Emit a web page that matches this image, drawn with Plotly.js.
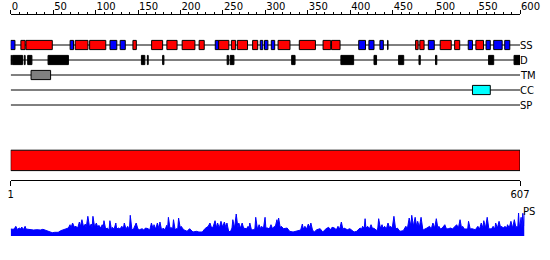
<!DOCTYPE html>
<html><head><meta charset="utf-8">
<script src="https://cdn.plot.ly/plotly-3.0.1.min.js"></script>
<style>html,body{margin:0;padding:0;background:#fff}#chart{width:550px;height:260px}</style>
</head><body><div id="chart"></div>
<script>
// ---------- data ----------
const trackNames = ['SS', 'D', 'TM', 'CC', 'SP'];

// secondary structure: H = helix (red), E = strand (blue)
const ssStart = [0, 12, 18, 70, 76, 93, 117, 129, 144, 166, 184, 202, 222, 241, 245, 260, 267, 285, 294, 299, 307, 315, 340, 368, 378, 410, 422, 435, 444, 477, 482, 492, 506, 523, 539, 548, 560, 569, 582];
const ssEnd   = [5, 17, 49, 74, 91, 112, 125, 135, 148, 179, 196, 217, 228, 245, 257, 265, 279, 291, 297, 303, 311, 329, 359, 377, 388, 418, 428, 439, 444.5, 480, 487, 499, 519, 529, 544, 557, 565, 579, 588];
const ssType  = ['E','H','H','E','H','H','E','E','H','H','H','H','H','E','H','H','H','H','E','E','E','H','H','H','H','E','E','E','E','H','H','E','H','H','E','H','E','E','E'];

// disorder
const disStart = [0, 2, 16, 20, 44, 154, 161, 179, 255, 258.5, 331, 389, 428, 457, 481, 500.5, 563, 593];
const disEnd   = [1, 14, 17, 25, 68, 158, 162, 180.5, 256.5, 263, 335, 404, 431, 463, 482.5, 502, 569, 600];

// transmembrane, coiled coil, signal peptide
const tmStart = [24], tmEnd = [47];
const ccStart = [544], ccEnd = [565];
const spStart = [], spEnd = [];

// top ruler
const topRange = [0, 600];
const topMajorStep = 50;
const topMinorStep = 10;

// sequence bar
const seqFirst = 1;
const seqLength = 607;
const seqTickVals = [1, 607];

// PS profile (residue position, score)
const psPos = [1,4,6,7,9,11,13,14,16,18,19,21,25,28,32,36,39,43,46,50,53,57,60,64,67,
69,71,72,74,76,78,80,82,83,85,87,89,90,92,94,96,97,98,100,102,104,105,107,109,110,111,113,115,117,118,120,121,123,125,126,128,130,132,134,135,137,139,141,142,144,146,147,149,151,153,156,158,160,163,165,167,169,170,172,174,176,177,179,181,183,185,186,187,189,190,192,193,195,196,198,199,201,
202,205,209,212,216,220,223,227,230,234,
236,238,240,242,244,245,247,249,251,253,255,256,258,260,262,263,265,267,269,270,272,274,276,277,279,281,282,283,285,287,289,290,292,294,296,297,299,301,302,304,306,308,310,312,313,315,316,317,319,320,323,327,330,334,
337,341,343,345,346,348,350,352,354,355,357,359,362,366,369,373,376,378,380,383,385,387,389,391,393,394,398,401,
406,409,413,415,416,418,419,420,422,424,426,428,429,433,434,435,437,439,440,442,444,446,448,449,451,453,455,457,460,464,467,469,471,473,474,476,478,480,481,483,485,487,488,492,495,497,499,501,503,505,506,508,510,513,515,517,520,522,524,527,529,531,533,534,536,538,540,541,543,545,549,552,554,556,558,559,561,563,565,566,568,570,572,573,575,577,579,580,582,584,586,587,589,591,593,595,597,598,599,600,601,603,604,605,606,607];
const psVal = [7,6.7,8,9.7,6.5,8,7,9,6.5,9.7,7,6.7,6,6,6.3,6,6.7,5.3,4,3.3,3.7,3.7,5.3,6.3,7.3,
8,11.3,8,13,9,9.7,8,14,9,16.3,9,12,8,19.7,9,12,8,19.7,9,13,8,10.7,8,11.3,7,15.3,7,8,6,15.3,6,8.7,7,13,7,8,7,9.7,8,13,7,9.7,6,20.7,6,7.3,9,13,7,6.3,7.3,6,8,7.3,6,13,7,11.3,7,13,7,14,6,8,6,10.7,7,18.7,7,8.7,7,16.3,6,7.3,7,18,8,
9.7,6.3,4.7,7.3,4,4.7,4,4,7.3,9.7,
13,8,9.7,15.3,8,13,8,14.7,9,14,8,13,5,4,8,16.3,8,22,8,13,8,13,7,8,7,9.7,7,13,6,6.3,7,18.7,7,11.3,7,9.7,7,18.7,8,8,7,11.3,7,9.7,9,16.3,12,18,8,9.7,7.3,8,4.7,4,
4.7,6.3,6,12,7,9.7,7,12,8,13,6,4,6.3,7.3,4,7.3,8.7,6,8.7,8,6,9.7,7,14,6,8,6.3,7.3,
4,4.7,8,7,9.7,8,17.3,8,9.7,7,11.3,7,8,5.3,8,17.3,8,11.3,8,9.7,7,13,8,9.7,8,19.7,7,8,4.7,5.3,9.7,8,18,10,20.7,10,18.7,9,14.7,9,18.7,7,6.3,8,9.7,7,13,8,17.3,7,9.7,7,8,11.3,7,7.3,8,7,8.7,11.3,8,16.3,7,9.7,7,7.3,7,14.7,7,7.3,6.3,9.7,7,13,8,15.3,8,18.7,7,7.3,7,9.7,7,13,8,14.7,8,9.7,8,9.7,8,11.3,8,14.7,8,16.3,8,9.7,8,23,8,18.7,8,22.7,10,24];

// ---------- layout helpers (pixel geometry) ----------
const W = 550, H = 260;
const X0 = 10.7, X1 = 520, X1ps = 524.5;
const px = p => p / W;
const py = p => 1 - p / H;
const FONT = 'DejaVu Sans, Verdana, sans-serif';

// tracks: track i at pixel 45 + 15*i ; y-axis value = track index
const trackTop = 15, trackBottom = 112, trackY0 = 45, trackStep = 15;
const yRangeTop = (trackTop - trackY0) / trackStep;
const yRangeBottom = (trackBottom - trackY0) / trackStep;
const halfBox = 4.6 / trackStep;

const colors = {H: '#ff0000', E: '#0000ff', D: '#000000', TM: '#808080', CC: '#00ffff', SP: '#ffff00'};

const shapes = [];
function addBoxes(starts, ends, track, colorFn) {
  for (let i = 0; i < starts.length; i++) {
    shapes.push({type: 'rect', xref: 'x', yref: 'y', x0: starts[i], x1: ends[i],
      y0: track - halfBox, y1: track + halfBox,
      fillcolor: colorFn(i), line: {color: '#000', width: 1}, layer: 'above'});
  }
}
addBoxes(ssStart, ssEnd, 0, i => colors[ssType[i]]);
addBoxes(disStart, disEnd, 1, () => colors.D);
addBoxes(tmStart, tmEnd, 2, () => colors.TM);
addBoxes(ccStart, ccEnd, 3, () => colors.CC);
addBoxes(spStart, spEnd, 4, () => colors.SP);

const traces = [];
trackNames.forEach((n, i) => {
  traces.push({type: 'scatter', mode: 'lines', x: topRange, y: [i, i], xaxis: 'x', yaxis: 'y',
    line: {color: '#000', width: 1}, hoverinfo: 'skip'});
});

// sequence bar (x2/y2): y2 range [0,1]; px 180.3 -> 0, px 148 -> 1
const seqAxisPx = 180.3, seqTopPx = 148;
const toY2 = p => (seqAxisPx - p) / (seqAxisPx - seqTopPx);
const barTop = toY2(150.2), barBot = toY2(170.6);
traces.push({type: 'bar', orientation: 'h', base: [seqFirst], x: [seqLength - seqFirst],
  y: [(barTop + barBot) / 2], width: [barTop - barBot], xaxis: 'x2', yaxis: 'y2',
  marker: {color: '#ff0000', line: {color: '#000', width: 1}}, hoverinfo: 'skip'});

// PS profile (x3/y3)
const psBasePx = 236, psTopPx = 208, psRange = psBasePx - psTopPx;
traces.push({type: 'scatter', mode: 'lines', x: psPos, y: psVal, xaxis: 'x3', yaxis: 'y3',
  fill: 'tozeroy', fillcolor: '#0000ff', line: {color: '#0000ff', width: 1}, hoverinfo: 'skip'});

const annotations = trackNames.map((n, i) => ({
  text: n, x: topRange[1], y: i, xref: 'x', yref: 'y', xanchor: 'left', yanchor: 'middle',
  showarrow: false, xshift: -2, font: {family: FONT, size: 10, color: '#000'}
}));
annotations.push({text: 'PS', x: seqLength, y: psBasePx - 211, xref: 'x3', yref: 'y3',
  xanchor: 'left', yanchor: 'middle', showarrow: false, xshift: -4,
  font: {family: FONT, size: 10, color: '#000'}});

const layout = {
  width: W, height: H, margin: {l: 0, r: 0, t: 0, b: 0},
  paper_bgcolor: '#fff', plot_bgcolor: 'rgba(0,0,0,0)', showlegend: false, hovermode: false,
  font: {family: FONT, size: 10, color: '#000'},
  xaxis: {domain: [px(X0), px(X1)], range: topRange, anchor: 'y', side: 'top',
    showline: true, linecolor: '#000', linewidth: 1, showgrid: false, zeroline: false,
    ticks: 'outside', ticklen: 4, tickcolor: '#000', tickwidth: 1, dtick: topMajorStep, tick0: 0,
    ticklabelposition: 'outside right', tickfont: {family: FONT, size: 10, color: '#000'},
    minor: {dtick: topMinorStep, ticks: 'outside', ticklen: 2.5, tickcolor: '#000', tickwidth: 1, showgrid: false},
    fixedrange: true},
  yaxis: {domain: [py(trackBottom), py(trackTop)], range: [yRangeBottom, yRangeTop], anchor: 'x',
    visible: false, fixedrange: true},
  xaxis2: {domain: [px(X0), px(X1)], range: [seqFirst, seqLength], anchor: 'y2', side: 'bottom',
    showline: true, linecolor: '#000', linewidth: 1, showgrid: false, zeroline: false,
    tickmode: 'array', tickvals: seqTickVals, ticktext: seqTickVals.map(String),
    ticks: 'outside', ticklen: 5, tickcolor: '#000', tickwidth: 1,
    tickfont: {family: FONT, size: 10, color: '#000'}, fixedrange: true},
  yaxis2: {domain: [py(seqAxisPx), py(seqTopPx)], range: [0, 1], anchor: 'x2', visible: false, fixedrange: true},
  xaxis3: {domain: [px(X0), px(X1ps)], range: [seqFirst, seqLength], anchor: 'y3', visible: false, fixedrange: true},
  yaxis3: {domain: [py(psBasePx), py(psTopPx)], range: [0, psRange], anchor: 'x3', visible: false, fixedrange: true},
  shapes: shapes,
  annotations: annotations,
  bargap: 0
};

Plotly.newPlot('chart', traces, layout, {staticPlot: true, displayModeBar: false});
</script>
</body></html>
